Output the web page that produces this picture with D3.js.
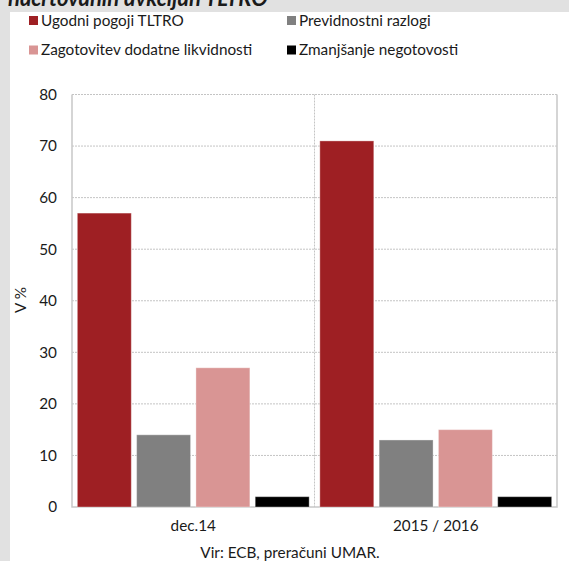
<!DOCTYPE html>
<html>
<head>
<meta charset="utf-8">
<script src="https://cdn.jsdelivr.net/npm/d3@7"></script>
<style>
  body { margin: 0; background: #e1e1e1; }
  svg { display: block; }
</style>
</head>
<body>
<svg id="chart"></svg>
<script>
// data
var categories = ["dec.14", "2015 / 2016"]
var series = ["Ugodni pogoji TLTRO", "Previdnostni razlogi", "Zagotovitev dodatne likvidnosti", "Zmanjšanje negotovosti"]
var colors = ["#9e1f23", "#808080", "#d99594", "#000000"]
var valuesDec14 = [57, 14, 27, 2]
var values2015 = [71, 13, 15, 2]
var yTicks = [0, 10, 20, 30, 40, 50, 60, 70, 80]

var width = 569, height = 561
var font = "Lato, 'Open Sans', sans-serif"
var fs = 15.3
var margin = {left: 72, right: 12, top: 94.5, bottom: 54}

var svg = d3.select("#chart").attr("width", width).attr("height", height)
  .style("font-family", font)

svg.append("rect").attr("width", width).attr("height", height).attr("fill", "#e1e1e1")
svg.append("rect").attr("x", 10).attr("y", 12).attr("width", width).attr("height", height).attr("fill", "#fff")

// title (its upper part is cut off in the reference)
svg.append("text").attr("x", 8).attr("y", 6)
  .attr("font-size", 22).attr("font-weight", "bold").attr("font-style", "italic")
  .attr("fill", "#1a1a1a")
  .text("načrtovanih avkcijah TLTRO")

// legend
var legendPos = [[29, 20.5], [287, 20.5], [29, 50], [287, 50]]
var legend = svg.append("g").selectAll("g").data(series).join("g")
  .attr("transform", (d, i) => `translate(${legendPos[i][0]},${legendPos[i][1]})`)
legend.append("rect").attr("x", 0).attr("y", -4.5).attr("width", 9).attr("height", 9)
  .attr("fill", (d, i) => colors[i])
legend.append("text").attr("x", 12).attr("dy", "0.35em").attr("font-size", fs)
  .attr("fill", "#1a1a1a").text(d => d)

var x0 = d3.scaleBand().domain(categories).range([margin.left, width - margin.right])
var x1 = d3.scaleBand().domain(d3.range(series.length)).range([0, x0.bandwidth()]).padding(0.09)
var y = d3.scaleLinear().domain([0, 80]).range([height - margin.bottom, margin.top])

// gridlines
svg.append("g").selectAll("line").data(yTicks.slice(1)).join("line")
  .attr("x1", margin.left).attr("x2", width - margin.right)
  .attr("y1", d => y(d)).attr("y2", d => y(d))
  .attr("stroke", "#c4c4c4").attr("stroke-dasharray", "2,1")
svg.append("line")
  .attr("x1", x0(categories[1])).attr("x2", x0(categories[1]))
  .attr("y1", y(80)).attr("y2", y(0))
  .attr("stroke", "#c4c4c4").attr("stroke-dasharray", "2,1")

// frame
svg.append("path")
  .attr("d", `M${margin.left},${y(80)}V${y(0)}H${width - margin.right}V${y(80)}`)
  .attr("fill", "none").attr("stroke", "#c8c8c8").attr("stroke-width", 1.5)

// bars
var rows = [valuesDec14, values2015]
svg.append("g").selectAll("g").data(categories).join("g")
  .attr("transform", d => `translate(${x0(d)},0)`)
  .selectAll("rect").data((d, i) => rows[i].map((v, j) => ({j, v}))).join("rect")
  .attr("x", d => x1(d.j)).attr("width", x1.bandwidth())
  .attr("y", d => y(d.v)).attr("height", d => y(0) - y(d.v))
  .attr("fill", d => colors[d.j])
  .attr("stroke", "rgba(255,255,255,0.35)").attr("stroke-width", 1)

// y axis
var yAxis = svg.append("g").attr("transform", `translate(${margin.left},0)`)
  .call(d3.axisLeft(y).tickValues(yTicks).tickSize(0).tickPadding(15))
yAxis.select(".domain").remove()
yAxis.selectAll("text").attr("font-size", fs).attr("fill", "#1a1a1a").attr("font-family", font)

// x axis
var xAxis = svg.append("g").attr("transform", `translate(0,${y(0)})`)
  .call(d3.axisBottom(x0).tickSize(0).tickPadding(13))
xAxis.select(".domain").remove()
xAxis.selectAll("text").attr("font-size", fs).attr("fill", "#1a1a1a").attr("font-family", font)

// y label
svg.append("text").attr("transform", "translate(26,300) rotate(-90)")
  .attr("text-anchor", "middle").attr("font-size", fs).attr("fill", "#1a1a1a")
  .text("V %")

// source
svg.append("text").attr("x", 290).attr("y", 558).attr("text-anchor", "middle")
  .attr("font-size", fs).attr("fill", "#1a1a1a")
  .text("Vir: ECB, preračuni UMAR.")
</script>
</body>
</html>
